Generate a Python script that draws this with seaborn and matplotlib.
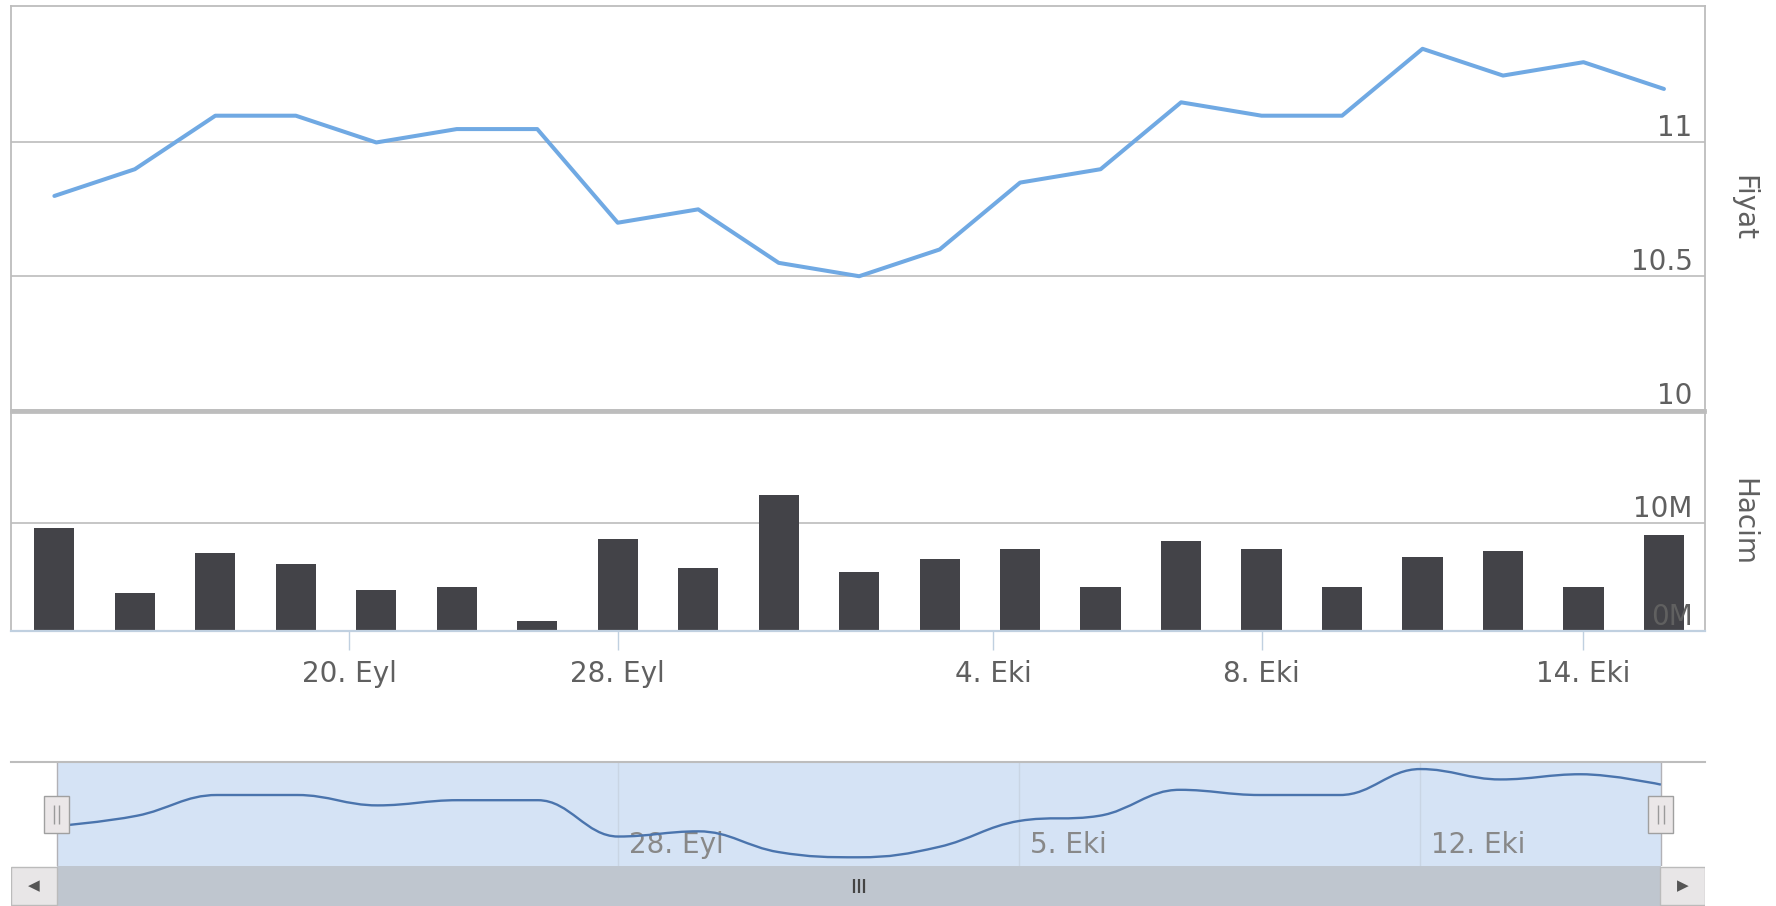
import numpy as np
import pandas as pd
import matplotlib
matplotlib.use("Agg")
import matplotlib.pyplot as plt
from matplotlib.path import Path
from matplotlib.patches import PathPatch, Rectangle
from matplotlib.transforms import offset_copy
import seaborn as sns

sns.set_theme(style="white")
plt.rcParams["font.family"] = ["DejaVu Sans"]

# === data: trading days 15 Sep - 15 Oct 2015 (Kurban Bayrami gap) ===
dates = ["2015-09-15", "2015-09-16", "2015-09-17", "2015-09-18", "2015-09-21",
         "2015-09-22", "2015-09-23", "2015-09-28", "2015-09-29", "2015-09-30",
         "2015-10-01", "2015-10-02", "2015-10-05", "2015-10-06", "2015-10-07",
         "2015-10-08", "2015-10-09", "2015-10-12", "2015-10-13", "2015-10-14",
         "2015-10-15"]
price = [10.80, 10.90, 11.10, 11.10, 11.00, 11.05, 11.05, 10.70, 10.75, 10.55,
         10.50, 10.60, 10.85, 10.90, 11.15, 11.10, 11.10, 11.35, 11.25, 11.30,
         11.20]
volume_m = [9.5, 3.55, 7.2, 6.2, 3.75, 4.1, 0.9, 8.5, 5.85, 12.55, 5.45,
            6.6, 7.55, 4.1, 8.3, 7.55, 4.1, 6.8, 7.35, 4.1, 8.9]

main_tick_dates = ["2015-09-20", "2015-09-28", "2015-10-04", "2015-10-08", "2015-10-14"]
main_tick_labels = ["20. Eyl", "28. Eyl", "4. Eki", "8. Eki", "14. Eki"]
nav_tick_dates = ["2015-09-28", "2015-10-05", "2015-10-12"]
nav_tick_labels = ["28. Eyl", "5. Eki", "12. Eki"]
price_ticks = [10, 10.5, 11]
price_tick_labels = ["10", "10.5", "11"]
volume_ticks = [0, 10]
volume_tick_labels = ["0M", "10M"]

LINE = "#70a9e3"
BAR = "#434348"
GRID = "#c2c2c2"
FRAME = "#bdbdbd"
TXT = "#606060"
MASK = "#d5e3f5"
NAV_LINE = "#4a74ad"
FS = 20

df = pd.DataFrame({"date": pd.to_datetime(dates), "price": price, "volume": volume_m})
df["pos"] = np.arange(len(df))  # ordinal axis: one slot per trading day
n = len(df)


def ordinal_pos(ds):
    # place calendar dates on the ordinal (trading-day) axis
    d = pd.to_datetime(ds).map(pd.Timestamp.toordinal)
    return np.interp(d, df["date"].map(pd.Timestamp.toordinal), df["pos"])


W, H = 1776, 906
fig = plt.figure(figsize=(W / 100, H / 100), dpi=100)


def px_axes(left, top, right, bottom):
    return fig.add_axes([left / W, 1 - bottom / H, (right - left) / W, (bottom - top) / H])


ax_p = px_axes(11, 6, 1705, 410)
ax_v = px_axes(11, 412, 1705, 631)
ax_n = px_axes(11, 762, 1705, 866)
ax_s = px_axes(11, 866, 1705, 906)

main_xlim = (-0.539, 20.51)
nav_xlim = (-0.569, 20.55)

# === price ===
sns.lineplot(data=df, x="pos", y="price", ax=ax_p, color=LINE, lw=2.9)
ax_p.set_xlim(*main_xlim)
ax_p.set_ylim(10, 11.51)
ax_p.set_xticks([])
ax_p.set_yticks(price_ticks)
ax_p.grid(axis="y", color=GRID, lw=1.3)
ax_p.yaxis.tick_right()
ax_p.set_yticklabels(price_tick_labels)
ax_p.tick_params(axis="y", length=0, pad=-9, labelsize=FS, labelcolor=TXT)
for t in ax_p.get_yticklabels():
    t.set_ha("right")
    t.set_va("bottom")
ax_p.set_xlabel("")
ax_p.set_ylabel("Fiyat", rotation=270, color=TXT, fontsize=FS, va="center", ha="center")
ax_p.yaxis.set_label_position("right")
ax_p.yaxis.set_label_coords((1757 - 11) / 1694, 0.5)
for s in ax_p.spines.values():
    s.set_color(FRAME)
    s.set_linewidth(1.3)
ax_p.spines["bottom"].set_linewidth(2)

# === volume ===
for v in volume_ticks[1:]:
    ax_v.axhline(v, color=GRID, lw=1.3, zorder=0)
sns.barplot(data=df, x="pos", y="volume", ax=ax_v, native_scale=True, width=0.5,
            color=BAR, saturation=1, linewidth=0)
ax_v.set_axisbelow(False)  # axis labels sit on top of the bars
ax_v.set_xlim(*main_xlim)
ax_v.set_ylim(0, 20.2)
ax_v.set_yticks(volume_ticks)
ax_v.yaxis.tick_right()
ax_v.set_yticklabels(volume_tick_labels)
ax_v.tick_params(axis="y", length=0, pad=-9, labelsize=FS, labelcolor=TXT)
for t in ax_v.get_yticklabels():
    t.set_ha("right")
    t.set_va("bottom")
ax_v.set_xticks(ordinal_pos(main_tick_dates))
ax_v.set_xticklabels(main_tick_labels)
ax_v.tick_params(axis="x", bottom=True, direction="out", length=14, width=1,
                 color="#c0d0e0", pad=7, labelsize=FS, labelcolor=TXT)
ax_v.set_xlabel("")
ax_v.set_ylabel("Hacim", rotation=270, color=TXT, fontsize=FS, va="center", ha="center")
ax_v.yaxis.set_label_position("right")
ax_v.yaxis.set_label_coords((1757 - 11) / 1694, 0.5)
for s in ax_v.spines.values():
    s.set_color(FRAME)
    s.set_linewidth(1.3)
ax_v.spines["top"].set_linewidth(2)
ax_v.spines["bottom"].set_color("#c0d0e0")
ax_v.spines["bottom"].set_linewidth(1.6)


# === navigator ===
def spline_path(xs, ys, smoothing=1.5):
    # bezier control points the way highstock draws its spline series
    xs, ys = list(xs), list(ys)
    left = list(zip(xs, ys))
    right = list(zip(xs, ys))
    d = smoothing + 1
    for i in range(1, len(xs) - 1):
        x, y = xs[i], ys[i]
        lx = (smoothing * x + xs[i - 1]) / d
        ly = (smoothing * y + ys[i - 1]) / d
        rx = (smoothing * x + xs[i + 1]) / d
        ry = (smoothing * y + ys[i + 1]) / d
        corr = (ry - ly) * (rx - x) / (rx - lx) + y - ry
        ly += corr
        ry += corr
        if ly > ys[i - 1] and ly > y:
            ly = max(ys[i - 1], y); ry = 2 * y - ly
        elif ly < ys[i - 1] and ly < y:
            ly = min(ys[i - 1], y); ry = 2 * y - ly
        if ry > ys[i + 1] and ry > y:
            ry = max(ys[i + 1], y); ly = 2 * y - ry
        elif ry < ys[i + 1] and ry < y:
            ry = min(ys[i + 1], y); ly = 2 * y - ry
        left[i] = (lx, ly)
        right[i] = (rx, ry)
    verts = [(xs[0], ys[0])]
    codes = [Path.MOVETO]
    for i in range(1, len(xs)):
        verts += [right[i - 1], left[i], (xs[i], ys[i])]
        codes += [Path.CURVE4] * 3
    return Path(verts, codes)


ax_n.set_xlim(*nav_xlim)
ax_n.set_ylim(10.416, 11.418)
ax_n.axvspan(0, n - 1, color=MASK, lw=0, zorder=0)
nav_pos = ordinal_pos(nav_tick_dates)
for xp, lab in zip(nav_pos, nav_tick_labels):
    ax_n.axvline(xp, color="#c9d5e4", lw=1, zorder=0.5)
    ax_n.text(xp, 0.2, lab, transform=offset_copy(ax_n.get_xaxis_transform(), fig, x=11, y=0, units="dots"),
              ha="left", va="center", fontsize=FS, color="#888888", zorder=1)
ax_n.add_patch(PathPatch(spline_path(df["pos"], df["price"]), fill=False,
                         edgecolor=NAV_LINE, lw=1.7, zorder=2))
ax_n.set_xticks([])
ax_n.set_yticks([])
for k, s in ax_n.spines.items():
    s.set_visible(k == "top")
ax_n.spines["top"].set_color(FRAME)
ax_n.spines["top"].set_linewidth(1.5)
for xp in (0, n - 1):
    ax_n.axvline(xp, color="#b2b1b6", lw=1, zorder=1)
    ax_n.add_patch(Rectangle((xp - 0.155, 0.317), 0.31, 0.356, transform=ax_n.get_xaxis_transform(),
                             facecolor="#ebe7e8", edgecolor="#a0a0a0", lw=1, zorder=3))
    ax_n.vlines([xp - 0.035, xp + 0.035], 0.4, 0.59, transform=ax_n.get_xaxis_transform(),
                color="#9a9a9a", lw=1, zorder=4)

# === scrollbar ===
ax_s.set_xlim(*nav_xlim)
ax_s.set_ylim(0, 1)
ax_s.add_patch(Rectangle((0, 0), n - 1, 1, facecolor="#bfc6cf", edgecolor="none"))
bl = (57 - 11) / 1694
br = (1660 - 11) / 1694
ax_s.add_patch(Rectangle((0, 0.02), bl, 0.96, transform=ax_s.transAxes,
                         facecolor="#e8e6e7", edgecolor="#bbbbbb", lw=1))
ax_s.add_patch(Rectangle((br, 0.02), 1 - br, 0.96, transform=ax_s.transAxes,
                         facecolor="#e8e6e7", edgecolor="#bbbbbb", lw=1))
ax_s.text(bl / 2, 0.5, "\u25c0", transform=ax_s.transAxes, ha="center", va="center",
          fontsize=11, color="#555555")
ax_s.text((1 + br) / 2, 0.5, "\u25b6", transform=ax_s.transAxes, ha="center", va="center",
          fontsize=11, color="#555555")
mid = (n - 1) / 2
ax_s.vlines([mid - 0.06, mid, mid + 0.06], 0.32, 0.68, color="#444444", lw=1.6)
ax_s.set_xticks([])
ax_s.set_yticks([])
for s in ax_s.spines.values():
    s.set_visible(False)

fig.savefig("out.png", dpi=100)
plt.close(fig)
print("saved out.png")
